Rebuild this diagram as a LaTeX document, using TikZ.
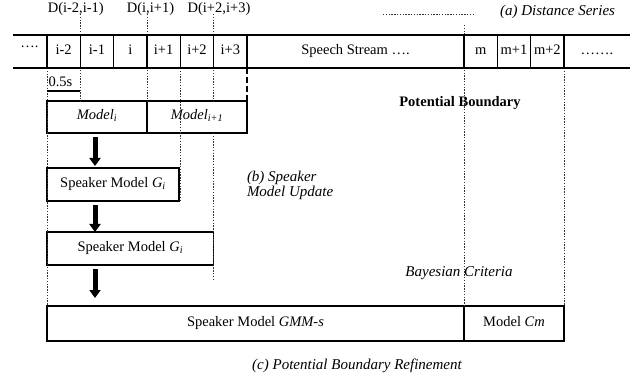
\documentclass[tikz,border=0pt]{standalone}
\usepackage{fontspec}
\setmainfont{Liberation Serif}
\usetikzlibrary{arrows.meta}
\begin{document}
\begin{tikzpicture}[x=1pt,y=-1pt,
  txt/.style={font=\fontsize{14.5}{16}\selectfont, inner sep=0pt, outer sep=0pt},
  itxt/.style={font=\fontsize{15}{13.5}\selectfont\itshape, inner sep=0pt, outer sep=0pt},
  cell/.style={txt, minimum height=33pt, text height=0.72em, text depth=0.18em},
  bandline/.style={line width=1.2pt},
  box/.style={draw, line width=1.4pt, inner sep=0pt, outer sep=0pt, font=\fontsize{14.5}{16}\selectfont, text height=0.72em, text depth=0.2em},
  dl/.style={line width=0.9pt, dash pattern=on 1.4pt off 1.4pt, black!80},
  thickdash/.style={line width=1.6pt, dash pattern=on 6pt off 3pt},
  bigarrow/.style={-{Triangle[length=8pt,width=11pt]}, line width=5pt}
]
\useasboundingbox (0,0) rectangle (634,379);

% ---- band cells ----
\node[cell, minimum width=34pt]   (c0)  at (30,51.5)     {};
\node[txt, anchor=base] (c0t) at (29.5,48) {….};
\node[cell, minimum width=33.3pt] (c1)  at (63.65,51.5)  {i-2};
\node[cell, minimum width=33.4pt] (c2)  at (97,51.5)     {i-1};
\node[cell, minimum width=33.3pt] (c3)  at (130.35,51.5) {i};
\node[cell, minimum width=33.3pt] (c4)  at (163.65,51.5) {i+1};
\node[cell, minimum width=33.4pt] (c5)  at (197,51.5)    {i+2};
\node[cell, minimum width=33.3pt] (c6)  at (230.35,51.5) {i+3};
\node[cell, minimum width=217pt]  (c7)  at (355.5,51.5)  {Speech Stream ….};
\node[cell, minimum width=33.3pt] (c8)  at (480.65,51.5) {m};
\node[cell, minimum width=33.4pt] (c9)  at (514,51.5)    {m+1};
\node[cell, minimum width=33.3pt] (c10) at (547.35,51.5) {m+2};
\node[cell, minimum width=66pt]   (c11) at (597,51.5)    {…….};

% ---- labels on top ----
\node[txt] (d1) at (75.8,9)  {D(i-2,i-1)};
\node[txt] (d2) at (150.5,9) {D(i,i+1)};
\node[txt] (d3) at (219,9)   {D(i+2,i+3)};
\node[itxt] (lega) at (557.5,12) {(a) Distance Series};
\coordinate (lg1) at (383,14);
\coordinate (lg2) at (475,14);

% ---- boxes ----
\node[box, minimum width=100pt, minimum height=32pt] (mi)  at (97,117)  {\textit{Model\textsubscript{i}}};
\node[box, minimum width=100pt, minimum height=32pt] (mi1) at (197,117) {\textit{Model\textsubscript{i+1}}};
\node[box, minimum width=132pt, minimum height=33pt] (b1)  at (113,184.5) {Speaker Model \textit{G\textsubscript{i}}};
\node[box, minimum width=166.7pt, minimum height=33pt] (b2) at (130.35,248.5) {Speaker Model \textit{G\textsubscript{i}}};
\node[box, minimum width=417pt, minimum height=35pt] (gmm) at (255.5,323.5) {Speaker Model \textit{GMM-s}};
\node[box, minimum width=100pt, minimum height=35pt] (cm)  at (514,323.5) {Model \textit{Cm}};

% ---- other texts ----
\node[txt, font=\fontsize{14.5}{16}\selectfont\bfseries] (pb) at (460,103) {Potential Boundary};
\node[itxt, align=left, anchor=north west] (bsu) at (247,171) {(b) Speaker\\Model Update};
\node[itxt] (bc) at (459,273) {Bayesian Criteria};
\node[itxt] (pbr) at (357,366) {(c) Potential Boundary Refinement};

% 0.5s
\node[txt, anchor=west] (half) at (48.5,82) {0.5s};
\coordinate (u1) at (47,91);
\coordinate (u2) at (80.3,91);

% ---- dotted guide lines ----
\coordinate (t1) at (80.3,14);
\coordinate (t2) at (147,14);
\coordinate (t3) at (213.7,14);
\coordinate (t4) at (464,25);
\coordinate (e3) at (213.7,279);
\draw[dl] (t1) -- (t1 |- mi.north);
\draw[dl] (t2) -- (t2 |- mi.north);
\draw[dl] (t3) -- (t3 |- mi.north);
\draw[dl] (t3 |- mi.south) -- (e3);
\draw[dl] (c1.south west) -- (gmm.north west);
\draw[dl] ([xshift=0.6pt]c5.south west) -- ([xshift=0.6pt]c5.west |- b1.south);
\draw[dl] (t4) -- (gmm.north east);
\draw[dl] (c11.south west) -- (cm.north east);
\draw[dl] (lg1) -- (lg2);
\draw[thickdash] (c7.south west) -- (mi1.north east);

% ---- band lines ----
\draw[bandline] (c0.north west) -- (c11.north east);
\draw[bandline] (c0.south west) -- (c11.south east);
\foreach \c in {c1,c2,c3,c4,c5,c6,c7,c8,c9,c10,c11}
  \draw[bandline] (\c.north west) -- (\c.south west);

% 0.5s underline
\draw[line width=1.3pt] (u1) -- (u2);

% ---- arrows ----
\draw[bigarrow] ([shift={(-2,4)}]mi.south) -- ([shift={(-18,-2)}]b1.north);
\draw[bigarrow] ([shift={(-18,4)}]b1.south) -- ([shift={(-35.35,0)}]b2.north);
\draw[bigarrow] ([shift={(-35.35,4)}]b2.south) -- ([shift={(-160.5,-8)}]gmm.north);
\end{tikzpicture}
\end{document}
